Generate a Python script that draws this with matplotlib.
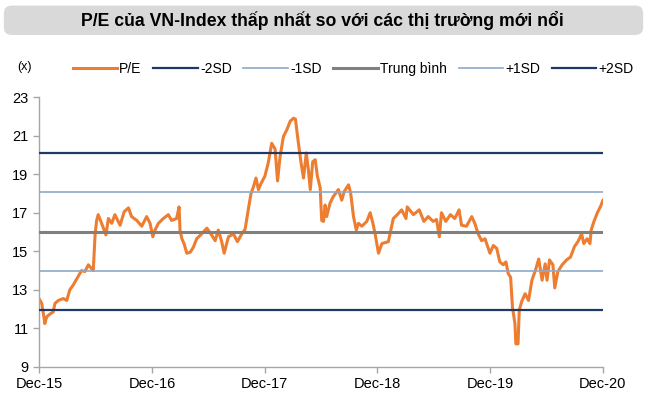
import pandas as pd
import matplotlib
matplotlib.use("Agg")
import matplotlib.pyplot as plt
from matplotlib.patches import FancyBboxPatch

plt.rcParams['font.family'] = ['Liberation Sans', 'DejaVu Sans']

## P/E values
dates = [
    "2015-12-01", "2015-12-10", "2015-12-17", "2015-12-20", "2015-12-26", "2016-01-06", "2016-01-16", "2016-01-22",
    "2016-02-02", "2016-02-18", "2016-02-29", "2016-03-10", "2016-03-21", "2016-04-06", "2016-04-17", "2016-04-28",
    "2016-05-09", "2016-05-25", "2016-05-31", "2016-06-05", "2016-06-10", "2016-06-21", "2016-07-05", "2016-07-13",
    "2016-07-24", "2016-08-03", "2016-08-20", "2016-09-02", "2016-09-16", "2016-09-26", "2016-10-13", "2016-10-29",
    "2016-11-14", "2016-11-25", "2016-12-04", "2016-12-11", "2016-12-22", "2017-01-07", "2017-01-23", "2017-02-03",
    "2017-02-19", "2017-02-27", "2017-03-02", "2017-03-08", "2017-03-15", "2017-03-24", "2017-04-04", "2017-04-14",
    "2017-04-25", "2017-05-11", "2017-05-28", "2017-06-10", "2017-06-24", "2017-07-04", "2017-07-15", "2017-07-23",
    "2017-08-06", "2017-08-22", "2017-09-04", "2017-09-18", "2017-09-29", "2017-10-09", "2017-10-18", "2017-10-26",
    "2017-11-03", "2017-11-11", "2017-11-19", "2017-12-02", "2017-12-13", "2017-12-24", "2018-01-04", "2018-01-12",
    "2018-01-20", "2018-01-31", "2018-02-11", "2018-02-22", "2018-03-05", "2018-03-11", "2018-03-19", "2018-03-29",
    "2018-04-06", "2018-04-15", "2018-04-22", "2018-04-28", "2018-05-06", "2018-05-14", "2018-05-21", "2018-05-30",
    "2018-06-04", "2018-06-10", "2018-06-15", "2018-06-20", "2018-07-01", "2018-07-12", "2018-07-28", "2018-08-08",
    "2018-08-16", "2018-08-30", "2018-09-06", "2018-09-15", "2018-09-24", "2018-10-01", "2018-10-12", "2018-10-28",
    "2018-11-08", "2018-11-17", "2018-11-24", "2018-12-05", "2018-12-16", "2019-01-06", "2019-01-14", "2019-01-22",
    "2019-02-04", "2019-02-18", "2019-03-04", "2019-03-08", "2019-03-28", "2019-04-16", "2019-05-01", "2019-05-15",
    "2019-05-31", "2019-06-11", "2019-06-20", "2019-06-27", "2019-07-11", "2019-07-26", "2019-08-09", "2019-08-23",
    "2019-08-31", "2019-09-16", "2019-10-03", "2019-10-13", "2019-10-24", "2019-11-04", "2019-11-15", "2019-12-01",
    "2019-12-12", "2019-12-23", "2020-01-02", "2020-01-13", "2020-01-22", "2020-01-29", "2020-02-06", "2020-02-12",
    "2020-02-20", "2020-02-23", "2020-03-01", "2020-03-05", "2020-03-13", "2020-03-24", "2020-04-04", "2020-04-15",
    "2020-04-26", "2020-05-07", "2020-05-18", "2020-05-28", "2020-06-03", "2020-06-11", "2020-06-22", "2020-06-28",
    "2020-07-08", "2020-07-22", "2020-08-05", "2020-08-18", "2020-08-31", "2020-09-11", "2020-09-23", "2020-09-30",
    "2020-10-11", "2020-10-20", "2020-10-24", "2020-11-02", "2020-11-13", "2020-11-24", "2020-12-01",
]
pe = [
    12.55, 12.3, 11.6, 11.25, 11.6, 11.75, 11.85, 12.3,
    12.45, 12.55, 12.45, 13.0, 13.25, 13.7, 14.0, 13.95,
    14.3, 14.0, 15.9, 16.6, 16.9, 16.45, 15.85, 16.7,
    16.45, 16.9, 16.35, 17.05, 17.25, 16.8, 16.6, 16.3,
    16.8, 16.45, 15.75, 16.1, 16.45, 16.7, 16.9, 16.6,
    16.7, 17.3, 16.1, 15.65, 15.4, 14.9, 14.95, 15.2,
    15.65, 15.9, 16.2, 15.9, 15.55, 16.1, 15.5, 14.9,
    15.75, 15.9, 15.5, 15.9, 16.15, 17.15, 18.0, 18.35,
    18.8, 18.2, 18.5, 18.9, 19.6, 20.6, 20.3, 18.65,
    19.9, 20.95, 21.3, 21.75, 21.9, 21.85, 20.8, 19.6,
    18.8, 20.1, 19.2, 18.2, 19.65, 19.75, 18.9, 18.3,
    16.6, 16.55, 17.4, 16.8, 17.5, 17.85, 18.2, 17.65,
    18.1, 18.45, 18.0, 16.8, 16.1, 16.45, 16.3, 16.55,
    17.0, 16.45, 15.9, 14.9, 15.4, 15.5, 16.1, 16.7,
    16.9, 17.15, 16.7, 17.3, 16.9, 17.15, 16.55, 16.8,
    16.55, 16.65, 15.75, 17.0, 16.55, 16.9, 16.7, 17.15,
    16.35, 16.3, 16.8, 16.45, 15.9, 15.55, 15.65, 14.9,
    15.3, 15.15, 14.45, 14.3, 14.45, 13.85, 13.65, 12.1,
    11.25, 10.2, 10.2, 11.95, 12.4, 12.8, 12.45, 13.5,
    14.0, 14.6, 13.5, 14.35, 13.5, 14.55, 14.3, 13.1,
    13.95, 14.3, 14.55, 14.7, 15.25, 15.5, 15.9, 15.4,
    15.65, 15.4, 16.1, 16.55, 17.0, 17.35, 17.65,
]

band_names = ["-2SD", "-1SD", "Trung bình", "+1SD", "+2SD"]
band_values = [11.95, 14.0, 16.0, 18.05, 20.1]

tick_dates = ["2015-12-01", "2016-12-01", "2017-12-01", "2018-12-01", "2019-12-01", "2020-12-01"]
tick_labels = ["Dec-15", "Dec-16", "Dec-17", "Dec-18", "Dec-19", "Dec-20"]

orange = "#ED7D31"
navy = "#1F3864"
light = "#8EA9C9"
grey = "#808080"
band_colors = [navy, light, grey, light, navy]
band_widths = [1.6, 1.2, 2.2, 1.2, 1.6]

x = pd.to_datetime(dates)

fig = plt.figure(figsize=(6.49, 3.97), dpi=100)
ax = fig.add_axes([0.060, 0.0756, 0.869, 0.680])

handles = []
h, = ax.plot(x, pe, color=orange, lw=2.2, label="P/E", zorder=2, solid_joinstyle="round")
handles.append(h)
for name, val, col, w in zip(band_names, band_values, band_colors, band_widths):
    h = ax.axhline(val, color=col, lw=w, label=name, zorder=3)
    handles.append(h)

ax.set_xlim(pd.Timestamp(tick_dates[0]), pd.Timestamp(tick_dates[-1]))
ax.set_ylim(9, 23)
ax.set_yticks(range(9, 24, 2))
ax.set_xticks(pd.to_datetime(tick_dates))
ax.set_xticklabels(tick_labels)

for s in ["top", "right"]:
    ax.spines[s].set_visible(False)
for s in ["left", "bottom"]:
    ax.spines[s].set_color("#A6A6A6")
    ax.spines[s].set_linewidth(1.0)
ax.tick_params(axis="both", colors="#A6A6A6", labelcolor="black", labelsize=10.5, length=4, width=1.0)
ax.tick_params(axis="x", pad=3)

## title box
box = FancyBboxPatch((0.006, 0.912), 0.985, 0.074, transform=fig.transFigure,
                     boxstyle="round,pad=0,rounding_size=0.012", facecolor="#D9D9D9",
                     edgecolor="none", mutation_aspect=1.6)
fig.patches.append(box)
fig.text(0.497, 0.948, "P/E của VN-Index thấp nhất so với các thị trường mới nổi",
         ha="center", va="center", fontsize=12.7, fontweight="bold")

fig.text(0.027, 0.832, "(x)", fontsize=9, va="center")

fig.legend(handles=handles, loc="center left", bbox_to_anchor=(0.112, 0.826), ncol=6,
           frameon=False, fontsize=10, handlelength=3.2, handletextpad=0.15,
           columnspacing=0.85, borderaxespad=0, borderpad=0)

fig.savefig("out.png", dpi=100)
